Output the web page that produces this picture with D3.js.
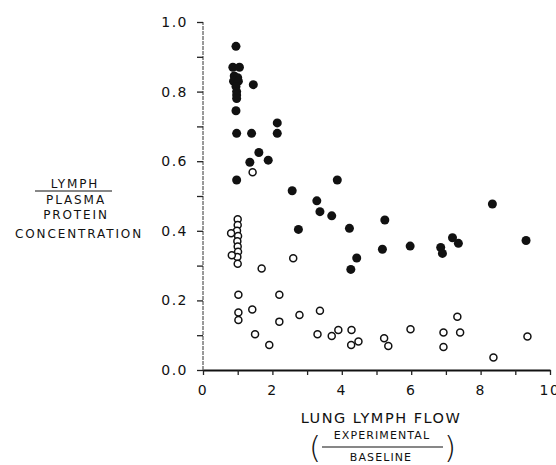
<!DOCTYPE html>
<html>
<head>
<meta charset="utf-8">
<script src="https://cdn.jsdelivr.net/npm/d3@7"></script>
<style>
  body { margin: 0; background: #fff; }
  text { font-family: "DejaVu Sans", sans-serif; fill: #111; }
</style>
</head>
<body>
<svg id="chart" width="556" height="465"></svg>
<script>
// filled circles (lymph/plasma, high)
let filledX = [0.95, 0.86, 1.05, 0.90, 1.00, 0.88, 1.02, 0.95, 0.97, 0.97, 0.97, 1.45, 0.95, 0.97, 1.40, 2.14, 2.14, 1.61, 1.35, 1.88, 0.97, 2.57, 3.87, 3.28, 3.37, 3.71, 2.75, 4.22, 5.24, 5.17, 5.97, 4.26, 4.43, 6.85, 6.90, 7.19, 7.36, 8.34, 9.31];
let filledY = [0.93, 0.87, 0.87, 0.845, 0.84, 0.83, 0.83, 0.815, 0.80, 0.79, 0.78, 0.82, 0.745, 0.68, 0.68, 0.71, 0.68, 0.625, 0.597, 0.603, 0.546, 0.515, 0.546, 0.486, 0.455, 0.443, 0.404, 0.407, 0.431, 0.347, 0.356, 0.289, 0.322, 0.352, 0.335, 0.38, 0.364, 0.477, 0.372];

// open circles
let openX = [1.43, 1.0, 1.0, 0.98, 1.01, 0.99, 1.0, 1.01, 0.99, 1.0, 0.81, 0.83, 1.69, 2.60, 1.02, 2.20, 1.42, 1.02, 1.02, 2.20, 2.78, 1.50, 1.91, 3.37, 3.30, 3.71, 3.90, 4.28, 4.27, 4.48, 5.22, 5.34, 5.98, 6.93, 6.93, 7.33, 7.41, 8.37, 9.35];
let openY = [0.568, 0.433, 0.417, 0.40, 0.385, 0.37, 0.355, 0.34, 0.325, 0.305, 0.393, 0.330, 0.292, 0.321, 0.216, 0.216, 0.174, 0.165, 0.144, 0.139, 0.158, 0.103, 0.072, 0.170, 0.103, 0.098, 0.115, 0.115, 0.072, 0.082, 0.091, 0.069, 0.117, 0.108, 0.066, 0.153, 0.108, 0.036, 0.096];

let xTickLabels = [0, 2, 4, 6, 8, 10];
let yTickLabels = [0.0, 0.2, 0.4, 0.6, 0.8, 1.0];

let svg = d3.select("#chart");

let x = d3.scaleLinear().domain([0, 10]).range([203, 550]);
let y = d3.scaleLinear().domain([0, 1]).range([370, 22]);

// y axis: thin broken line, small ticks every 0.1
svg.append("line")
  .attr("x1", x(0)).attr("x2", x(0))
  .attr("y1", y(0)).attr("y2", y(1))
  .attr("stroke", "#333").attr("stroke-width", 1)
  .attr("stroke-dasharray", "4,1");

svg.append("g")
  .attr("transform", `translate(${x(0)},0)`)
  .call(d3.axisLeft(y).tickValues(d3.range(0, 1.01, 0.1)).tickSize(6).tickFormat(""))
  .call(g => g.select(".domain").remove())
  .selectAll("line").attr("stroke", "#222").attr("stroke-width", 1.3);

svg.selectAll(".ylab")
  .data(yTickLabels)
  .enter()
  .append("text")
  .attr("class", "ylab")
  .attr("x", 188)
  .attr("y", d => y(d))
  .attr("dy", "0.36em")
  .attr("text-anchor", "end")
  .attr("font-size", 14)
  .attr("letter-spacing", 1.5)
  .text(d => d.toFixed(1));

// x axis
svg.append("g")
  .attr("transform", `translate(0,${y(0)})`)
  .call(d3.axisBottom(x).ticks(10).tickSize(5).tickFormat("").tickSizeOuter(0))
  .call(g => g.select(".domain").attr("stroke", "#111").attr("stroke-width", 1.8))
  .selectAll("line").attr("stroke", "#222").attr("stroke-width", 1.3);

svg.selectAll(".xlab")
  .data(xTickLabels)
  .enter()
  .append("text")
  .attr("class", "xlab")
  .attr("x", d => x(d))
  .attr("y", 390)
  .attr("dy", "0.36em")
  .attr("text-anchor", "middle")
  .attr("font-size", 14)
  .attr("letter-spacing", 1.5)
  .text(d => d);

// points
let filled = filledX.map((d, i) => ({x: d, y: filledY[i]}));
let open = openX.map((d, i) => ({x: d, y: openY[i]}));

svg.selectAll(".open")
  .data(open)
  .enter()
  .append("circle")
  .attr("class", "open")
  .attr("cx", d => x(d.x))
  .attr("cy", d => y(d.y))
  .attr("r", 3.5)
  .attr("fill", "#fff")
  .attr("stroke", "#111")
  .attr("stroke-width", 1.5);

svg.selectAll(".filled")
  .data(filled)
  .enter()
  .append("circle")
  .attr("class", "filled")
  .attr("cx", d => x(d.x))
  .attr("cy", d => y(d.y))
  .attr("r", 4.5)
  .attr("fill", "#111");

// y axis title (fraction)
let yt = svg.append("g").attr("font-size", 12).attr("letter-spacing", 1.9).attr("text-anchor", "middle");
yt.append("text").attr("x", 75).attr("y", 188).text("LYMPH");
yt.append("line").attr("x1", 35).attr("x2", 112).attr("y1", 191).attr("y2", 191)
  .attr("stroke", "#111").attr("stroke-width", 1.2);
yt.append("text").attr("x", 76).attr("y", 204).text("PLASMA");
yt.append("text").attr("x", 76).attr("y", 219).text("PROTEIN");
yt.append("text").attr("x", 79).attr("y", 238).text("CONCENTRATION");

// x axis title
let xt = svg.append("g").attr("text-anchor", "middle");
xt.append("text").attr("x", 381).attr("y", 423).attr("font-size", 14.5).attr("letter-spacing", 1.5)
  .text("LUNG LYMPH FLOW");
xt.append("text").attr("x", 382).attr("y", 439).attr("font-size", 11).attr("letter-spacing", 1.1)
  .text("EXPERIMENTAL");
xt.append("line").attr("x1", 322).attr("x2", 443).attr("y1", 447).attr("y2", 447)
  .attr("stroke", "#111").attr("stroke-width", 1.2);
xt.append("text").attr("x", 381).attr("y", 461).attr("font-size", 11).attr("letter-spacing", 1.1)
  .text("BASELINE");
xt.append("text").attr("x", 315).attr("y", 458).attr("font-size", 31).attr("font-weight", 200)
  .text("(");
xt.append("text").attr("x", 450).attr("y", 458).attr("font-size", 31).attr("font-weight", 200)
  .text(")");
</script>
</body>
</html>
